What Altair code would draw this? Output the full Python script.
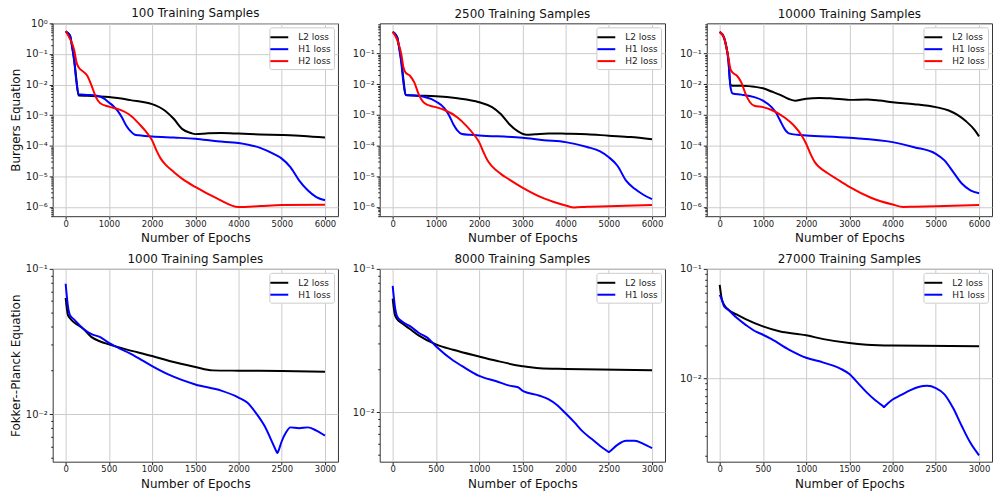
import altair as alt
import pandas as pd

# ---------------- Burgers equation runs (6000 epochs) ----------------
B100_L2_EP = [0, 100, 150, 200, 250, 300, 500, 800, 1000, 1500, 2000, 2300, 2500, 2700, 2900, 3000, 3300, 3600, 4000, 4500, 5000, 5500, 6000]
B100_L2 = [0.55, 0.40, 0.17, 0.06, 0.014, 4.4e-3, 4.3e-3, 4.1e-3, 3.9e-3, 3.1e-3, 2.3e-3, 1.4e-3, 7.6e-4, 3.5e-4, 2.6e-4, 2.4e-4, 2.55e-4, 2.6e-4, 2.5e-4, 2.35e-4, 2.25e-4, 2.1e-4, 1.85e-4]
B100_H1_EP = [0, 100, 150, 200, 250, 300, 500, 700, 900, 1000, 1100, 1200, 1300, 1400, 1500, 1600, 1700, 2000, 2500, 3000, 3500, 4000, 4500, 4800, 5000, 5200, 5400, 5600, 5800, 6000]
B100_H1 = [0.55, 0.40, 0.17, 0.055, 0.012, 4.8e-3, 4.6e-3, 4.4e-3, 3.4e-3, 2.6e-3, 2.0e-3, 1.4e-3, 8.5e-4, 4.6e-4, 3.0e-4, 2.3e-4, 2.2e-4, 2.0e-4, 1.85e-4, 1.7e-4, 1.4e-4, 1.23e-4, 8.5e-5, 5.5e-5, 3.8e-5, 2.0e-5, 7.4e-6, 3.5e-6, 2.1e-6, 1.65e-6]
B100_H2_EP = [0, 100, 200, 250, 300, 400, 500, 600, 700, 800, 1000, 1200, 1500, 1700, 1900, 2000, 2100, 2200, 2300, 2500, 2700, 3000, 3500, 4000, 4500, 5000, 6000]
B100_H2 = [0.55, 0.31, 0.13, 0.054, 0.037, 0.027, 0.0195, 9.3e-3, 3.9e-3, 2.45e-3, 1.9e-3, 1.6e-3, 9.8e-4, 5.2e-4, 2.45e-4, 1.5e-4, 7.1e-5, 3.8e-5, 2.5e-5, 1.4e-5, 8.3e-6, 4.5e-6, 1.9e-6, 1.0e-6, 1.07e-6, 1.15e-6, 1.18e-6]

B2500_L2_EP = [0, 100, 150, 200, 250, 300, 500, 1000, 1500, 2000, 2300, 2500, 2700, 2900, 3100, 3300, 3600, 4000, 4500, 5000, 5500, 6000]
B2500_L2 = [0.51, 0.36, 0.16, 0.06, 0.014, 4.5e-3, 4.3e-3, 4.1e-3, 3.5e-3, 2.6e-3, 1.8e-3, 1.07e-3, 5.0e-4, 2.9e-4, 2.25e-4, 2.35e-4, 2.5e-4, 2.45e-4, 2.35e-4, 2.1e-4, 1.9e-4, 1.6e-4]
B2500_H1_EP = [0, 100, 150, 200, 250, 300, 500, 700, 1000, 1200, 1300, 1400, 1500, 1600, 1800, 2000, 3000, 3500, 4000, 4500, 4800, 5000, 5200, 5400, 5600, 5800, 6000]
B2500_H1 = [0.51, 0.36, 0.15, 0.05, 0.011, 4.5e-3, 4.3e-3, 4.0e-3, 2.75e-3, 1.65e-3, 1.0e-3, 5.1e-4, 3.1e-4, 2.4e-4, 2.25e-4, 2.15e-4, 1.8e-4, 1.5e-4, 1.3e-4, 9.0e-5, 6.5e-5, 4.2e-5, 2.2e-5, 7.2e-6, 3.9e-6, 2.5e-6, 1.8e-6]
B2500_H2_EP = [0, 100, 200, 250, 300, 400, 500, 600, 700, 800, 1000, 1200, 1500, 1700, 1900, 2000, 2100, 2200, 2300, 2500, 2700, 3000, 3500, 4000, 4200, 4500, 5000, 6000]
B2500_H2 = [0.51, 0.29, 0.095, 0.035, 0.024, 0.019, 0.0115, 4.8e-3, 2.7e-3, 2.15e-3, 1.8e-3, 1.45e-3, 8.3e-4, 4.5e-4, 2.1e-4, 1.3e-4, 6.2e-5, 3.2e-5, 2.1e-5, 1.2e-5, 7.8e-6, 4.3e-6, 1.9e-6, 1.12e-6, 9.6e-7, 1.02e-6, 1.05e-6, 1.15e-6]

B10000_L2_EP = [0, 100, 150, 200, 250, 300, 500, 800, 1000, 1200, 1400, 1600, 1750, 1900, 2000, 2300, 2600, 3000, 3400, 3700, 4000, 4500, 5000, 5300, 5500, 5700, 5900, 6000]
B10000_L2 = [0.51, 0.33, 0.17, 0.07, 9.3e-3, 9.0e-3, 8.9e-3, 8.3e-3, 7.4e-3, 5.8e-3, 4.5e-3, 3.3e-3, 2.9e-3, 3.2e-3, 3.4e-3, 3.6e-3, 3.45e-3, 3.1e-3, 3.2e-3, 2.95e-3, 2.6e-3, 2.25e-3, 1.8e-3, 1.4e-3, 1.0e-3, 6.2e-4, 3.2e-4, 2.0e-4]
B10000_H1_EP = [0, 100, 200, 250, 300, 500, 800, 1000, 1200, 1300, 1400, 1500, 1600, 1800, 2000, 3000, 4000, 4500, 5000, 5200, 5400, 5600, 5800, 6000]
B10000_H1 = [0.51, 0.33, 0.058, 8.0e-3, 5.0e-3, 4.6e-3, 3.8e-3, 2.95e-3, 1.8e-3, 1.2e-3, 6.5e-4, 3.5e-4, 2.5e-4, 2.25e-4, 2.15e-4, 1.8e-4, 1.3e-4, 8.9e-5, 5.4e-5, 3.3e-5, 1.4e-5, 5.8e-6, 3.5e-6, 2.8e-6]
B10000_H2_EP = [0, 100, 200, 250, 300, 400, 500, 600, 700, 800, 1000, 1200, 1500, 1700, 1900, 2000, 2100, 2200, 2300, 2500, 2700, 3000, 3500, 4000, 4250, 4500, 5000, 6000]
B10000_H2 = [0.51, 0.33, 0.074, 0.031, 0.024, 0.019, 0.0115, 4.8e-3, 2.6e-3, 2.0e-3, 1.8e-3, 1.45e-3, 8.3e-4, 4.8e-4, 2.1e-4, 1.15e-4, 5.4e-5, 2.9e-5, 2.0e-5, 1.26e-5, 8.3e-6, 4.5e-6, 2.0e-6, 1.2e-6, 1.0e-6, 1.02e-6, 1.05e-6, 1.15e-6]

# ---------------- Fokker--Planck runs (3000 epochs) ----------------
F1000_L2_EP = [0, 25, 50, 100, 200, 300, 400, 500, 700, 1000, 1200, 1500, 1700, 2000, 2500, 3000]
F1000_L2 = [0.063, 0.0484, 0.0457, 0.0427, 0.0389, 0.0339, 0.0316, 0.0302, 0.0279, 0.0251, 0.0232, 0.0211, 0.0200, 0.0199, 0.0198, 0.0196]
F1000_H1_EP = [0, 25, 50, 100, 200, 300, 400, 500, 600, 800, 1000, 1200, 1500, 1800, 2000, 2100, 2200, 2300, 2400, 2440, 2450, 2460, 2500, 2550, 2600, 2700, 2800, 2900, 3000]
F1000_H1 = [0.079, 0.056, 0.048, 0.0447, 0.0389, 0.0355, 0.0339, 0.0309, 0.0288, 0.0251, 0.0214, 0.0186, 0.0160, 0.0145, 0.0130, 0.0120, 0.0102, 8.3e-3, 6.2e-3, 5.5e-3, 5.4e-3, 5.55e-3, 6.5e-3, 7.5e-3, 8.1e-3, 8.0e-3, 8.1e-3, 7.7e-3, 7.1e-3]

F8000_L2_EP = [0, 25, 50, 100, 200, 300, 500, 700, 1000, 1200, 1500, 1700, 2000, 3000]
F8000_L2 = [0.062, 0.048, 0.0447, 0.042, 0.038, 0.0343, 0.0297, 0.0272, 0.0244, 0.0228, 0.0209, 0.0202, 0.0200, 0.0196]
F8000_H1_EP = [0, 25, 50, 100, 200, 300, 400, 500, 700, 800, 1000, 1200, 1350, 1450, 1500, 1700, 1800, 1900, 2000, 2100, 2200, 2300, 2400, 2490, 2500, 2510, 2600, 2700, 2800, 2900, 3000]
F8000_H1 = [0.076, 0.055, 0.0468, 0.0432, 0.0398, 0.0358, 0.0331, 0.0288, 0.0229, 0.021, 0.0179, 0.0164, 0.0153, 0.0149, 0.0141, 0.0130, 0.0123, 0.0112, 9.8e-3, 8.5e-3, 7.3e-3, 6.5e-3, 5.8e-3, 5.3e-3, 5.25e-3, 5.3e-3, 5.9e-3, 6.3e-3, 6.3e-3, 6.0e-3, 5.6e-3]

F27000_L2_EP = [0, 25, 50, 100, 200, 300, 500, 700, 900, 1000, 1200, 1500, 1700, 2000, 3000]
F27000_L2 = [0.0716, 0.0525, 0.0471, 0.0424, 0.0382, 0.0348, 0.0299, 0.0269, 0.0255, 0.0248, 0.0229, 0.0211, 0.0204, 0.0200, 0.0197]
F27000_H1_EP = [0, 25, 50, 100, 200, 300, 400, 500, 600, 800, 1000, 1200, 1400, 1500, 1600, 1700, 1800, 1890, 1900, 1910, 2000, 2100, 2200, 2300, 2400, 2500, 2600, 2700, 2800, 2900, 3000]
F27000_H1 = [0.058, 0.0525, 0.0457, 0.0424, 0.0356, 0.0309, 0.0273, 0.0251, 0.0229, 0.0184, 0.0155, 0.0140, 0.0123, 0.0110, 9.1e-3, 7.5e-3, 6.35e-3, 5.6e-3, 5.5e-3, 5.6e-3, 6.45e-3, 7.1e-3, 7.8e-3, 8.4e-3, 8.6e-3, 8.2e-3, 7.2e-3, 5.4e-3, 3.7e-3, 2.6e-3, 2.0e-3]

NAMES = ["L2 loss", "H1 loss", "H2 loss"]
COLORS = ["#000000", "#0000ff", "#ff0000"]

FONT = "DejaVu Sans"
PLOT_W, PLOT_H = 287, 194

MAJOR = "abs(log(datum.value) / LN10 - round(log(datum.value) / LN10)) < 0.001"
EXP = "round(log(datum.value) / LN10)"
SUP = "['\u2070','\u00b9','\u00b2','\u00b3','\u2074','\u2075','\u2076','\u2077','\u2078','\u2079']"
LABEL_EXPR = (
    f"{MAJOR} ? '10' + ({EXP} < 0 ? '\u207b' : '') + {SUP}[abs({EXP})] : ''"
)


def log_ticks(lo, hi):
    vals = []
    for k in range(-8, 2):
        for m in range(1, 10):
            v = m * 10.0 ** k
            if lo <= v <= hi:
                vals.append(v)
    return vals


def frame(curves):
    rows = []
    for name, eps, vals in curves:
        for e, v in zip(eps, vals):
            rows.append({"epoch": e, "loss": v, "series": name})
    return pd.DataFrame(rows)


def panel(title, curves, ydomain, xmax, xstep, ytitle=None):
    df = frame(curves)
    names = [c[0] for c in curves]
    pad = xmax * 0.05
    y_axis_kw = dict(
        values=log_ticks(*ydomain),
        labelExpr=LABEL_EXPR,
        labelOverlap=False,
        labelFontSize=10,
        labelPadding=2,
        tickSize={"condition": {"test": MAJOR, "value": 3.5}, "value": 2},
        gridOpacity={"condition": {"test": MAJOR, "value": 1}, "value": 0},
        title=ytitle if ytitle else None,
    )
    return (
        alt.Chart(df, title=alt.TitleParams(title))
        .mark_line(strokeWidth=2, interpolate="monotone")
        .encode(
            x=alt.X(
                "epoch:Q",
                scale=alt.Scale(domain=[-pad, xmax + pad], nice=False, zero=False),
                axis=alt.Axis(values=list(range(0, xmax + 1, xstep)), format="d",
                              tickSize=3, labelPadding=0, titlePadding=5,
                              title="Number of Epochs"),
            ),
            y=alt.Y(
                "loss:Q",
                scale=alt.Scale(type="log", domain=list(ydomain), nice=False),
                axis=alt.Axis(**y_axis_kw),
            ),
            color=alt.Color(
                "series:N",
                scale=alt.Scale(domain=names, range=COLORS[: len(names)]),
                legend=alt.Legend(title=None),
            ),
        )
        .properties(width=PLOT_W, height=PLOT_H)
    )


TOP = (5e-7, 1.0)
TOP2 = (5e-7, 0.97)

p1 = panel("100 Training Samples", [
    ("L2 loss", B100_L2_EP, B100_L2),
    ("H1 loss", B100_H1_EP, B100_H1),
    ("H2 loss", B100_H2_EP, B100_H2)], TOP, 6000, 1000, "Burgers Equation")
p2 = panel("2500 Training Samples", [
    ("L2 loss", B2500_L2_EP, B2500_L2),
    ("H1 loss", B2500_H1_EP, B2500_H1),
    ("H2 loss", B2500_H2_EP, B2500_H2)], TOP2, 6000, 1000)
p3 = panel("10000 Training Samples", [
    ("L2 loss", B10000_L2_EP, B10000_L2),
    ("H1 loss", B10000_H1_EP, B10000_H1),
    ("H2 loss", B10000_H2_EP, B10000_H2)], TOP2, 6000, 1000)
p4 = panel("1000 Training Samples", [
    ("L2 loss", F1000_L2_EP, F1000_L2),
    ("H1 loss", F1000_H1_EP, F1000_H1)], (4.7e-3, 0.1), 3000, 500, "Fokker--Planck Equation")
p5 = panel("8000 Training Samples", [
    ("L2 loss", F8000_L2_EP, F8000_L2),
    ("H1 loss", F8000_H1_EP, F8000_H1)], (4.5e-3, 0.1), 3000, 500)
p6 = panel("27000 Training Samples", [
    ("L2 loss", F27000_L2_EP, F27000_L2),
    ("H1 loss", F27000_H1_EP, F27000_H1)], (1.75e-3, 0.1), 3000, 500)

chart = (
    alt.concat(p1, p2, p3, p4, p5, p6, columns=3, spacing={"row": 53, "column": 42}, bounds="flush")
    .resolve_scale(x="independent", y="independent", color="independent")
    .resolve_legend(color="independent")
    .properties(padding={"left": 8, "top": 5, "right": 2, "bottom": 2}, background="white")
    .configure_view(stroke="#333333", strokeWidth=1)
    .configure_axis(
        domain=False,
        labelFont=FONT,
        labelFontSize=8.5,
        labelColor="#222222",
        tickColor="#222222",
        gridColor="#cccccc",
        gridWidth=1,
        titleFont=FONT,
        titleFontSize=12,
        titleFontWeight="normal",
        titleColor="#111111",
        titlePadding=3,
    )
    .configure_title(font=FONT, fontSize=12, fontWeight="normal", color="#111111", offset=-2)
    .configure_legend(
        orient="top-right",
        offset=4,
        padding=3,
        fillColor="white",
        strokeColor="#cccccc",
        cornerRadius=2,
        symbolType="M-1.5,0H1.5",
        symbolStrokeWidth=2,
        symbolSize=144,
        labelFont=FONT,
        labelFontSize=9,
        labelColor="#222222",
        labelOffset=12,
        rowPadding=0,
    )
)

chart.save("out.html", embed_options={"renderer": "svg", "actions": False})
